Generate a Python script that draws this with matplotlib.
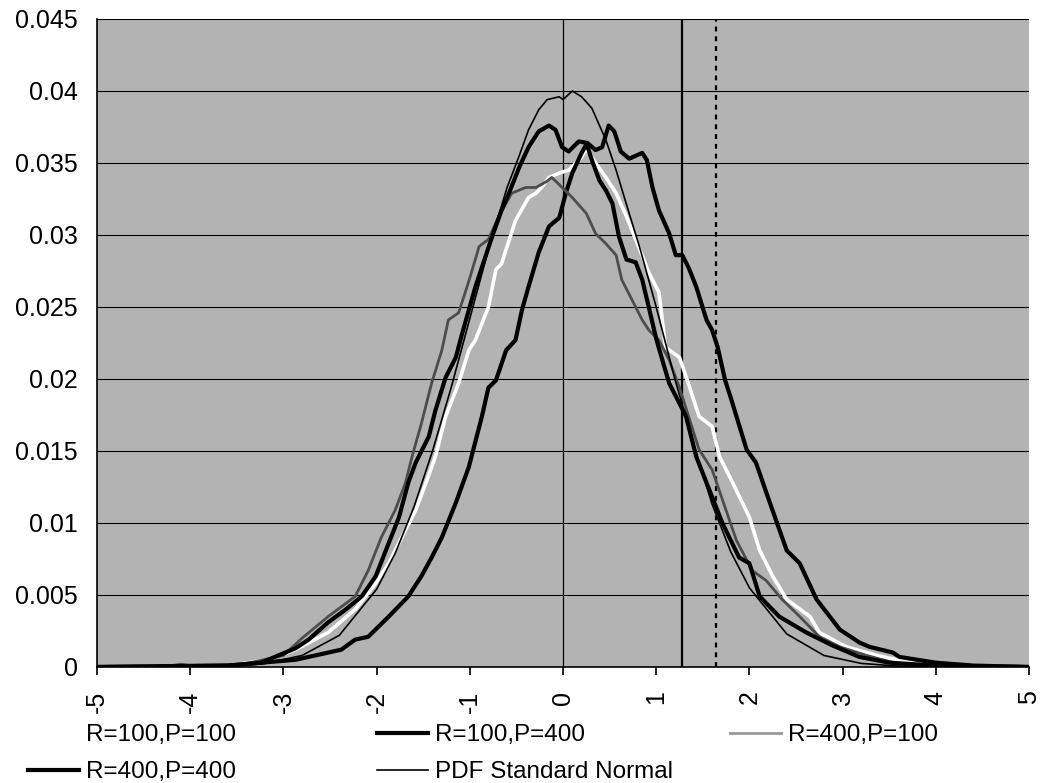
import matplotlib
matplotlib.use("Agg")
import matplotlib.pyplot as plt
from matplotlib.lines import Line2D

plt.rcParams['font.family'] = ['Liberation Sans', 'DejaVu Sans']

# ---- data ----
x_r100p100 = [-5.0, -3.6, -3.16, -2.87, -2.52, -2.23, -2.01, -1.87, -1.73, -1.58, -1.47, -1.37,
              -1.26, -1.12, -1.01, -0.94, -0.80, -0.72, -0.66, -0.51, -0.37, -0.29, -0.23, -0.15,
              -0.04, 0.06, 0.14, 0.20, 0.25, 0.35, 0.46, 0.57, 0.68, 0.78, 0.92, 1.03, 1.10, 1.25,
              1.35, 1.46, 1.60, 1.68, 1.82, 2.00, 2.11, 2.25, 2.40, 2.65, 2.75, 3.04, 3.37, 3.80,
              4.30, 5.0]
y_r100p100 = [0.0, 0.0001, 0.0005, 0.0012, 0.0024, 0.0040, 0.0058, 0.0072, 0.0090, 0.0109, 0.0128,
              0.0146, 0.0174, 0.0197, 0.0220, 0.0227, 0.0250, 0.0276, 0.0280, 0.0310, 0.0326,
              0.0329, 0.0333, 0.0340, 0.0343, 0.0345, 0.0350, 0.0354, 0.0360, 0.0350, 0.0340,
              0.0329, 0.0313, 0.0297, 0.0274, 0.0260, 0.0222, 0.0215, 0.0196, 0.0174, 0.0167,
              0.0146, 0.0128, 0.0104, 0.0081, 0.0063, 0.0047, 0.0035, 0.0024, 0.0014, 0.0008,
              0.0002, 0.0, 0.0]

x_r100p400 = [-5.0, -3.6, -2.87, -2.38, -2.23, -2.09, -1.87, -1.66, -1.52, -1.41, -1.30, -1.15,
              -1.01, -0.87, -0.80, -0.72, -0.61, -0.51, -0.44, -0.37, -0.26, -0.15, -0.04, 0.03,
              0.10, 0.20, 0.26, 0.35, 0.42, 0.49, 0.55, 0.62, 0.71, 0.85, 0.90, 0.96, 1.03, 1.14,
              1.21, 1.28, 1.35, 1.43, 1.54, 1.60, 1.66, 1.74, 1.80, 1.97, 2.07, 2.22, 2.40, 2.54,
              2.72, 2.97, 3.18, 3.29, 3.54, 3.61, 4.00, 4.40, 5.0]
y_r100p400 = [0.0, 0.0001, 0.0005, 0.0012, 0.0019, 0.0021, 0.0035, 0.0049, 0.0063, 0.0076, 0.0090,
              0.0114, 0.0139, 0.0174, 0.0194, 0.0199, 0.0220, 0.0227, 0.0248, 0.0264, 0.0288,
              0.0306, 0.0312, 0.0329, 0.0343, 0.0357, 0.0364, 0.0359, 0.0361, 0.0376, 0.0372,
              0.0358, 0.0353, 0.0357, 0.0352, 0.0333, 0.0317, 0.0301, 0.0286, 0.0286, 0.0277,
              0.0264, 0.0241, 0.0234, 0.0222, 0.0199, 0.0187, 0.0151, 0.0142, 0.0114, 0.0081,
              0.0072, 0.0047, 0.0026, 0.0017, 0.0014, 0.0010, 0.0007, 0.0003, 0.0001, 0.0]

x_r400p100 = [-5.0, -4.3, -4.1, -3.9, -3.5, -3.0, -2.8, -2.52, -2.23, -2.09, -1.95, -1.80, -1.69,
              -1.62, -1.52, -1.41, -1.30, -1.23, -1.12, -1.01, -0.90, -0.80, -0.69, -0.55, -0.40,
              -0.29, -0.18, -0.12, -0.01, 0.10, 0.25, 0.35, 0.46, 0.57, 0.63, 0.74, 0.85, 0.92,
              1.03, 1.14, 1.25, 1.46, 1.60, 1.86, 2.03, 2.18, 2.35, 2.54, 2.75, 2.97, 3.26, 3.60,
              4.00, 5.0]
y_r400p100 = [0.0, 0.0, 0.0002, 0.0, 0.0001, 0.0008, 0.0020, 0.0035, 0.0049, 0.0067, 0.0090, 0.0109,
              0.0128, 0.0146, 0.0169, 0.0197, 0.0220, 0.0241, 0.0246, 0.0268, 0.0292, 0.0297,
              0.0313, 0.0329, 0.0333, 0.0333, 0.0337, 0.0340, 0.0333, 0.0326, 0.0315, 0.0301,
              0.0294, 0.0286, 0.0269, 0.0255, 0.0241, 0.0234, 0.0227, 0.0213, 0.0194, 0.0151,
              0.0137, 0.0088, 0.0067, 0.0060, 0.0047, 0.0035, 0.0021, 0.0014, 0.0008, 0.0002,
              0.0, 0.0]

x_r400p400 = [-5.0, -3.6, -3.24, -2.87, -2.73, -2.52, -2.33, -2.16, -2.01, -1.87, -1.76, -1.66,
              -1.58, -1.44, -1.37, -1.26, -1.15, -1.08, -1.01, -0.94, -0.76, -0.66, -0.58, -0.47,
              -0.37, -0.26, -0.15, -0.08, -0.01, 0.06, 0.17, 0.25, 0.31, 0.39, 0.46, 0.53, 0.60,
              0.68, 0.78, 0.85, 0.92, 1.00, 1.08, 1.14, 1.25, 1.32, 1.43, 1.57, 1.71, 1.89, 2.00,
              2.11, 2.32, 2.61, 2.89, 3.18, 3.50, 4.00, 5.0]
y_r400p400 = [0.0, 0.0001, 0.0003, 0.0013, 0.0019, 0.0031, 0.0040, 0.0049, 0.0063, 0.0086, 0.0104,
              0.0128, 0.0142, 0.0160, 0.0178, 0.0201, 0.0215, 0.0232, 0.0248, 0.0264, 0.0299,
              0.0317, 0.0329, 0.0347, 0.0361, 0.0372, 0.0376, 0.0373, 0.0361, 0.0358, 0.0365,
              0.0364, 0.0352, 0.0338, 0.0331, 0.0322, 0.0299, 0.0283, 0.0281, 0.0269, 0.0250,
              0.0228, 0.0210, 0.0197, 0.0183, 0.0174, 0.0146, 0.0123, 0.0100, 0.0076, 0.0072,
              0.0049, 0.0035, 0.0024, 0.0015, 0.0007, 0.0003, 0.0001, 0.0]

x_pdf = [-5.0, -4.0, -3.6, -3.2, -2.8, -2.4, -2.0, -1.8, -1.6, -1.4, -1.2, -1.0, -0.8, -0.6, -0.47,
         -0.37, -0.26, -0.17, -0.04, 0.0, 0.1, 0.2, 0.31, 0.46, 0.57, 0.71, 0.82, 1.0, 1.2, 1.4,
         1.6, 1.8, 2.0, 2.4, 2.8, 3.2, 3.6, 4.0, 5.0]
y_pdf = [0.0, 0.00001, 0.00006, 0.00024, 0.0008, 0.0022, 0.0054, 0.0079, 0.0111, 0.0150, 0.0194,
         0.0242, 0.0290, 0.0333, 0.0355, 0.0373, 0.0387, 0.0394, 0.0396, 0.0394, 0.0400, 0.0396,
         0.0388, 0.0366, 0.0345, 0.0315, 0.0292, 0.0250, 0.0200, 0.0155, 0.0113, 0.0080, 0.0055,
         0.0023, 0.0008, 0.00025, 0.00006, 0.00001, 0.0]

crit_solid = 1.28
crit_dotted = 1.645

x_ticks = [-5, -4, -3, -2, -1, 0, 1, 2, 3, 4, 5]
y_ticks = [0, 0.005, 0.01, 0.015, 0.02, 0.025, 0.03, 0.035, 0.04, 0.045]
y_tick_labels = ['0', '0.005', '0.01', '0.015', '0.02', '0.025', '0.03', '0.035', '0.04', '0.045']

labels = ['R=100,P=100', 'R=100,P=400', 'R=400,P=100', 'R=400,P=400', 'PDF Standard Normal']

# ---- figure ----
fig = plt.figure(figsize=(10.43, 7.83), dpi=100)
ax = fig.add_axes([97 / 1043, 1 - 667 / 783, (1029 - 97) / 1043, (667 - 19) / 783])
ax.set_facecolor('#b3b3b3')

for yv in y_ticks[1:]:
    ax.axhline(yv, color='black', lw=0.8, zorder=1)
ax.axvline(0, color='black', lw=0.9, zorder=1)
ax.axvline(crit_solid, color='black', lw=1.6, zorder=1)
ax.axvline(crit_dotted, color='black', lw=1.6, ls=(0, (2.2, 2.2)), zorder=1)

l1, = ax.plot(x_r100p100, y_r100p100, color='white', lw=2.6, zorder=3)
l2, = ax.plot(x_r100p400, y_r100p400, color='black', lw=3.0, zorder=4)
l3, = ax.plot(x_r400p100, y_r400p100, color='#4d4d4d', lw=2.0, zorder=5)
l4, = ax.plot(x_r400p400, y_r400p400, color='black', lw=3.0, zorder=6)
l5, = ax.plot(x_pdf, y_pdf, color='black', lw=1.2, zorder=7)

ax.set_xlim(-5, 5)
ax.set_ylim(0, 0.045)
ax.set_xticks(x_ticks)
ax.set_xticklabels([str(t) for t in x_ticks], rotation=90, fontsize=18)
ax.set_yticks(y_ticks)
ax.set_yticklabels(y_tick_labels, fontsize=18)
ax.tick_params(axis='x', direction='out', length=6, width=1.2, pad=11)
ax.tick_params(axis='y', length=0, pad=14)
for s in ['top', 'right']:
    ax.spines[s].set_visible(False)
for s in ['left', 'bottom']:
    ax.spines[s].set_linewidth(1.2)
    ax.spines[s].set_zorder(8)

# ---- legend: three columns placed like the reference ----
def hline(color, lw):
    return Line2D([0], [0], color=color, lw=lw)

cols = [
    ([hline('white', 2.6), hline('black', 3.0)], [labels[0], labels[3]], 28),
    ([hline('black', 3.0), hline('black', 1.2)], [labels[1], labels[4]], 377),
    ([hline('#9a9a9a', 2.0)], [labels[2]], 730),
]
for hs, ls, xpx in cols:
    fig.legend(hs, ls, loc='upper left', bbox_to_anchor=(xpx / 1043, 1 - 724 / 783),
               frameon=False, fontsize=17.5, handlelength=2.1, handletextpad=0.3,
               borderpad=0, borderaxespad=0, labelspacing=0.62)

fig.savefig('out.png', dpi=100)
